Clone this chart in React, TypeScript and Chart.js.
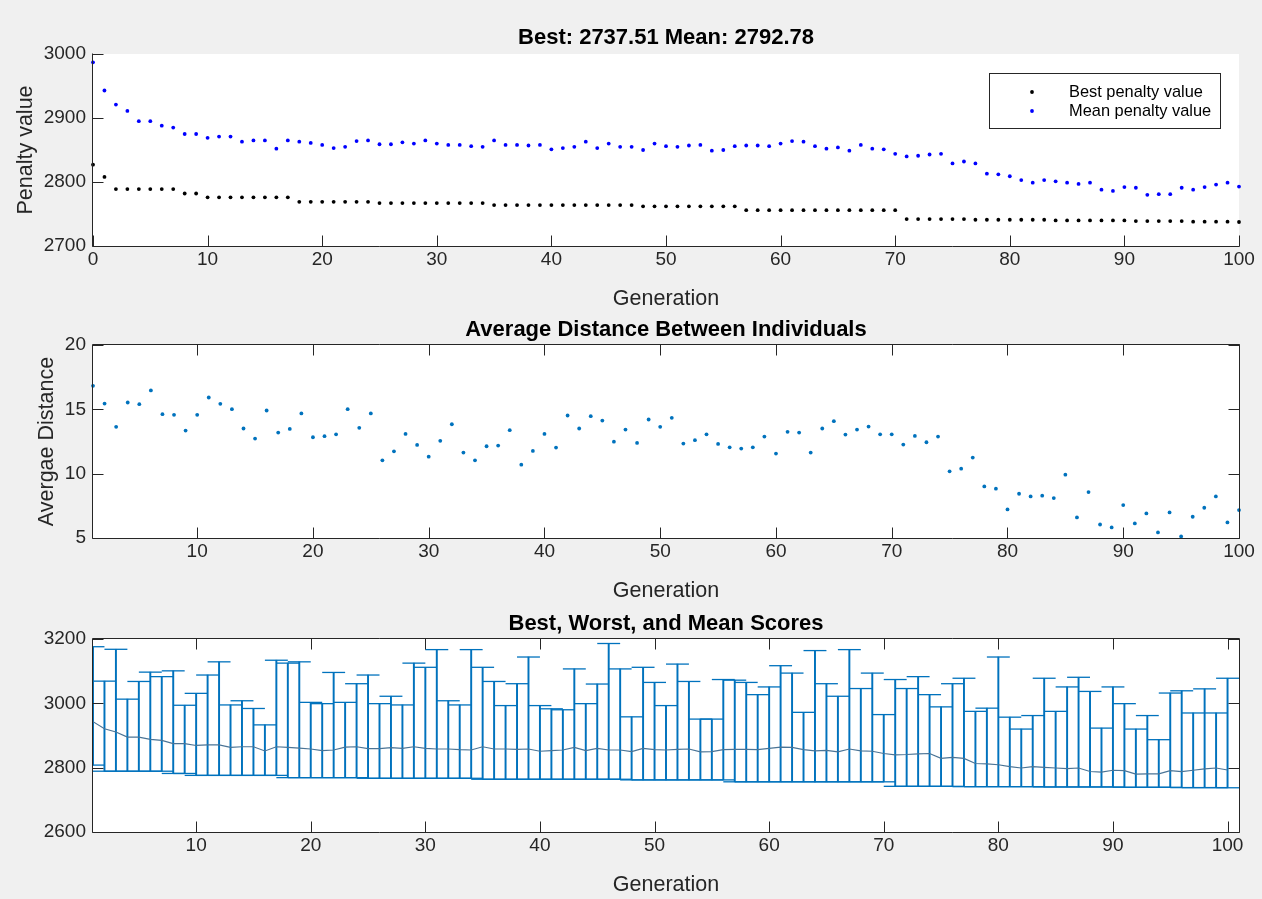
import React, { useEffect, useRef } from "react";
import { Chart, registerables } from "chart.js";

Chart.register(...registerables);

// ---------------------------------------------------------------------------
// Data
// ---------------------------------------------------------------------------

// Generation index 0..100 (x categories of the penalty plot)
const GENERATIONS: number[] = Array.from({ length: 101 }, (_, i) => i);

// Best penalty value per generation (0..100)
const BEST_PENALTY: number[] = [
  2827, 2808, 2789, 2789, 2789, 2789, 2789, 2789, 2782, 2782,
  2776, 2776, 2776, 2776, 2776, 2776, 2776, 2776, 2769, 2769,
  2769, 2769, 2769, 2769, 2769, 2767, 2767, 2767, 2767, 2767,
  2767, 2767, 2767, 2767, 2767, 2764, 2764, 2764, 2764, 2764,
  2764, 2764, 2764, 2764, 2764, 2764, 2764, 2764, 2762, 2762,
  2762, 2762, 2762, 2762, 2762, 2762, 2762, 2756, 2756, 2756,
  2756, 2756, 2756, 2756, 2756, 2756, 2756, 2756, 2756, 2756,
  2756, 2742, 2742, 2742, 2742, 2742, 2742, 2741, 2741, 2741,
  2741, 2741, 2741, 2741, 2740, 2740, 2740, 2740, 2740, 2740,
  2740, 2739, 2739, 2739, 2739, 2739, 2738, 2738, 2738, 2738,
  2737.51,
];

// Mean penalty value per generation (0..100)
const MEAN_PENALTY: number[] = [
  2987, 2943, 2921, 2911, 2895, 2895, 2888, 2885, 2875, 2875,
  2869, 2871, 2871, 2863, 2865, 2865, 2852, 2865, 2863, 2861,
  2858, 2853, 2855, 2864, 2865, 2859, 2859, 2862, 2860, 2865,
  2860, 2858, 2858, 2856, 2855, 2865, 2858, 2858, 2857, 2858,
  2851, 2853, 2855, 2863, 2853, 2860, 2855, 2855, 2850, 2860,
  2856, 2855, 2857, 2858, 2849, 2850, 2856, 2857, 2857, 2856,
  2860, 2864, 2863, 2856, 2852, 2854, 2849, 2858, 2852, 2851,
  2844, 2840, 2841, 2843, 2844, 2829, 2832, 2829, 2813, 2812,
  2809, 2803, 2799, 2803, 2801, 2799, 2797, 2799, 2788, 2786,
  2792, 2791, 2780, 2781, 2781, 2791, 2788, 2792, 2796, 2799,
  2792.78,
];

// Average distance between individuals, generations 1..100
const AVG_DISTANCE: number[] = [
  16.83, 15.45, 13.64, 15.53, 15.4, 16.47, 14.62, 14.57, 13.35, 14.57,
  15.92, 15.43, 15.01, 13.51, 12.73, 14.91, 13.19, 13.48, 14.68, 12.83,
  12.91, 13.06, 15.01, 13.56, 14.68, 11.04, 11.74, 13.09, 12.23, 11.32,
  12.55, 13.84, 11.64, 11.04, 12.13, 12.18, 13.38, 10.7, 11.77, 13.09,
  12.03, 14.52, 13.51, 14.47, 14.13, 12.49, 13.43, 12.39, 14.21, 13.64,
  14.34, 12.34, 12.6, 13.06, 12.31, 12.05, 11.95, 12.05, 12.88, 11.56,
  13.25, 13.19, 11.64, 13.51, 14.08, 13.04, 13.43, 13.66, 13.06, 13.06,
  12.26, 12.93, 12.44, 12.88, 10.18, 10.39, 11.25, 9.01, 8.83, 7.22,
  8.44, 8.23, 8.29, 8.1, 9.92, 6.6, 8.57, 6.05, 5.82, 7.56,
  6.13, 6.91, 5.43, 6.99, 5.12, 6.65, 7.35, 8.23, 6.21, 7.17,
];

// Worst score per generation, generations 1..100
const WORST_SCORE: number[] = [
  3176, 3069, 3168, 3013, 3068, 3097, 3083, 3101, 2994, 3031,
  3088, 3129, 2995, 3008, 2984, 2933, 3134, 3125, 3129, 3003,
  2999, 3096, 3003, 3061, 3088, 2999, 3022, 2995, 3125, 3112,
  3167, 3008, 2995, 3167, 3112, 3068, 2993, 3061, 3144, 2993,
  2983, 2980, 3107, 2999, 3060, 3186, 3107, 2958, 3112, 3065,
  2993, 3122, 3068, 2951, 2951, 3074, 3072, 3065, 3027, 3051,
  3117, 3094, 2972, 3164, 3061, 3022, 3167, 3046, 3094, 2965,
  3074, 3046, 3083, 3027, 2989, 3061, 3078, 2975, 2985, 3144,
  2957, 2920, 2962, 3078, 2975, 3051, 3081, 3037, 2923, 3051,
  2999, 2920, 2962, 2887, 3032, 3039, 2970, 3045, 2970, 3078,
];

// Tick values
const GEN_TICKS_FROM_ZERO = [0, 10, 20, 30, 40, 50, 60, 70, 80, 90, 100];
const GEN_TICKS = [10, 20, 30, 40, 50, 60, 70, 80, 90, 100];
const PENALTY_TICKS = [2700, 2800, 2900, 3000];
const DISTANCE_TICKS = [5, 10, 15, 20];
const SCORE_TICKS = [2600, 2800, 3000, 3200];

// ---------------------------------------------------------------------------
// Styling
// ---------------------------------------------------------------------------

const FIG_W = 1262;
const FIG_H = 899;
const FONT = "'Liberation Sans', Arial, Helvetica, sans-serif";
const AXIS_COLOR = "#262626";
const MATLAB_BLUE = "#0072bd";
const TICK_LEN = 11;

// Axes frame, inward tick marks, titles, axis labels and legend
const matlabAxes = {
  id: "matlabAxes",
  beforeDraw(chart: any) {
    const { ctx, chartArea: a } = chart;
    ctx.save();
    ctx.fillStyle = "#ffffff";
    ctx.fillRect(a.left, a.top, a.right - a.left, a.bottom - a.top);
    ctx.restore();
  },
  afterDraw(chart: any, _args: any, o: any) {
    const { ctx, chartArea: a } = chart;
    const xs = chart.scales.x;
    const ys = chart.scales.y;
    const L = Math.round(a.left) - 0.5;
    const R = Math.round(a.right) + 0.5;
    const T = Math.round(a.top) - 0.5;
    const B = Math.round(a.bottom) + 0.5;

    ctx.save();
    ctx.strokeStyle = AXIS_COLOR;
    ctx.lineWidth = 1;
    ctx.beginPath();
    if (o.box) {
      ctx.rect(L, T, R - L, B - T);
    } else {
      ctx.moveTo(L, T);
      ctx.lineTo(L, B);
      ctx.lineTo(R, B);
    }
    for (const t of xs.ticks) {
      const px = Math.round(xs.getPixelForValue(t.value)) + 0.5;
      ctx.moveTo(px, B);
      ctx.lineTo(px, B - TICK_LEN);
      if (o.box) {
        ctx.moveTo(px, T);
        ctx.lineTo(px, T + TICK_LEN);
      }
    }
    for (const t of ys.ticks) {
      const py = Math.round(ys.getPixelForValue(t.value)) + 0.5;
      ctx.moveTo(L, py);
      ctx.lineTo(L + TICK_LEN, py);
      if (o.box) {
        ctx.moveTo(R, py);
        ctx.lineTo(R - TICK_LEN, py);
      }
    }
    ctx.stroke();

    const cx = (a.left + a.right) / 2;
    ctx.textAlign = "center";
    ctx.textBaseline = "alphabetic";
    ctx.fillStyle = "#000000";
    ctx.font = `bold 22px ${FONT}`;
    ctx.fillText(o.title, cx, o.titleY);

    ctx.fillStyle = AXIS_COLOR;
    ctx.font = `21.5px ${FONT}`;
    ctx.fillText(o.xlabel, cx, o.xlabelY);

    if (o.ylabel) {
      ctx.save();
      ctx.translate(o.ylabelX, (a.top + a.bottom) / 2);
      ctx.rotate(-Math.PI / 2);
      ctx.fillText(o.ylabel, 0, 0);
      ctx.restore();
    }

    if (o.legend) {
      const lg = o.legend;
      ctx.fillStyle = "#ffffff";
      ctx.fillRect(lg.left, lg.top, lg.right - lg.left, lg.bottom - lg.top);
      ctx.strokeStyle = AXIS_COLOR;
      ctx.strokeRect(lg.left + 0.5, lg.top + 0.5, lg.right - lg.left, lg.bottom - lg.top);
      chart.data.datasets.forEach((ds: any, i: number) => {
        ctx.beginPath();
        ctx.fillStyle = ds.backgroundColor;
        ctx.arc(lg.markerX, lg.markerY[i], 1.9, 0, Math.PI * 2);
        ctx.fill();
        ctx.fillStyle = "#000000";
        ctx.font = `16.4px ${FONT}`;
        ctx.textAlign = "left";
        ctx.textBaseline = "alphabetic";
        ctx.fillText(ds.label, lg.textX, lg.textY[i]);
      });
    }
    ctx.restore();
  },
};

const tickFont = { family: FONT, size: 19 };

function xAxis(min: number, max: number, ticks: number[], boxHeight: number) {
  return {
    type: "linear",
    min,
    max,
    offset: false,
    grid: { display: false, drawTicks: false },
    border: { display: false },
    ticks: {
      color: AXIS_COLOR,
      font: tickFont,
      padding: 2,
      maxRotation: 0,
      autoSkip: false,
      callback: (v: any) => String(v),
    },
    afterBuildTicks: (s: any) => {
      s.ticks = ticks.map((v) => ({ value: v }));
    },
    afterFit: (s: any) => {
      s.height = boxHeight;
    },
  };
}

function yAxis(min: number, max: number, ticks: number[]) {
  return {
    type: "linear",
    min,
    max,
    grid: { display: false, drawTicks: false },
    border: { display: false },
    ticks: {
      color: AXIS_COLOR,
      font: tickFont,
      padding: 7,
      autoSkip: false,
      callback: (v: any) => String(v),
    },
    afterBuildTicks: (s: any) => {
      s.ticks = ticks.map((v) => ({ value: v }));
    },
    afterFit: (s: any) => {
      s.width = 93;
    },
  };
}

const basePlugins = {
  legend: { display: false },
  tooltip: { enabled: false },
  title: { display: false },
};

// ---------------------------------------------------------------------------
// Chart configurations
// ---------------------------------------------------------------------------

function penaltyConfig(): any {
  return {
    type: "scatter",
    data: {
      datasets: [
        {
          label: "Best penalty value",
          data: GENERATIONS.map((g, i) => ({ x: g, y: BEST_PENALTY[i] })),
          backgroundColor: "#000000",
          pointRadius: 1.9,
          pointBorderWidth: 0,
          clip: false,
        },
        {
          label: "Mean penalty value",
          data: GENERATIONS.map((g, i) => ({ x: g, y: MEAN_PENALTY[i] })),
          backgroundColor: "#0000ff",
          pointRadius: 1.9,
          pointBorderWidth: 0,
          clip: false,
        },
      ],
    },
    options: {
      animation: false,
      responsive: false,
      events: [],
      layout: { padding: { top: 54, left: 0, right: FIG_W - 1239, bottom: 0 } },
      scales: {
        x: xAxis(0, 100, GEN_TICKS_FROM_ZERO, 310 - 246),
        y: yAxis(2700, 3000, PENALTY_TICKS),
      },
      plugins: {
        ...basePlugins,
        matlabAxes: {
          box: false,
          title: "Best: 2737.51 Mean: 2792.78",
          titleY: 44,
          xlabel: "Generation",
          xlabelY: 305,
          ylabel: "Penalty value",
          ylabelX: 32,
          legend: {
            left: 989,
            top: 73,
            right: 1220,
            bottom: 128,
            markerX: 1032,
            markerY: [92, 111],
            textX: 1069,
            textY: [96.5, 116],
          },
        },
      },
    },
    plugins: [matlabAxes],
  };
}

function distanceConfig(): any {
  return {
    type: "scatter",
    data: {
      datasets: [
        {
          label: "Average distance",
          data: AVG_DISTANCE.map((d, i) => ({ x: GENERATIONS[i + 1], y: d })),
          backgroundColor: MATLAB_BLUE,
          pointRadius: 1.9,
          pointBorderWidth: 0,
          clip: false,
        },
      ],
    },
    options: {
      animation: false,
      responsive: false,
      events: [],
      layout: { padding: { top: 35, left: 0, right: FIG_W - 1239, bottom: 0 } },
      scales: {
        x: xAxis(1, 100, GEN_TICKS, 296 - 228),
        y: yAxis(5, 20, DISTANCE_TICKS),
      },
      plugins: {
        ...basePlugins,
        matlabAxes: {
          box: true,
          title: "Average Distance Between Individuals",
          titleY: 26,
          xlabel: "Generation",
          xlabelY: 287,
          ylabel: "Avergae Distance",
          ylabelX: 53,
        },
      },
    },
    plugins: [matlabAxes],
  };
}

function scoresConfig(): any {
  const gens = GENERATIONS.slice(1);
  const best = BEST_PENALTY.slice(1);
  const mean = MEAN_PENALTY.slice(1);
  // cap half-width of one generation, measured on the x scale
  const capRadius = (c: any) => {
    const s = c.chart.scales.x;
    return Math.abs(s.getPixelForValue(2) - s.getPixelForValue(1));
  };
  const capSet = (label: string, values: number[]) => ({
    type: "line",
    label,
    data: gens.map((g, i) => ({ x: g, y: values[i] })),
    showLine: false,
    pointStyle: "line",
    pointRadius: capRadius,
    pointBorderColor: MATLAB_BLUE,
    pointBackgroundColor: MATLAB_BLUE,
    pointBorderWidth: 1.3,
    clip: 0,
    order: 1,
  });
  return {
    type: "bar",
    data: {
      datasets: [
        {
          type: "line",
          label: "Mean",
          data: gens.map((g, i) => ({ x: g, y: mean[i] })),
          borderColor: "#4a7496",
          borderWidth: 1.2,
          pointRadius: 0,
          clip: 0,
          order: 0,
        },
        {
          type: "bar",
          label: "Range",
          data: gens.map((g, i) => ({ x: g, y: [best[i], WORST_SCORE[i]] })),
          backgroundColor: MATLAB_BLUE,
          borderWidth: 0,
          barThickness: 1.3,
          grouped: false,
          clip: 0,
          order: 2,
        },
        capSet("Worst", WORST_SCORE),
        capSet("Best", best),
      ],
    },
    options: {
      animation: false,
      responsive: false,
      events: [],
      layout: { padding: { top: 33, left: 0, right: FIG_W - 1239, bottom: 0 } },
      scales: {
        x: xAxis(1, 101, GEN_TICKS, 293 - 226),
        y: yAxis(2600, 3200, SCORE_TICKS),
      },
      plugins: {
        ...basePlugins,
        matlabAxes: {
          box: true,
          title: "Best, Worst, and Mean Scores",
          titleY: 24,
          xlabel: "Generation",
          xlabelY: 285,
        },
      },
    },
    plugins: [matlabAxes],
  };
}

// ---------------------------------------------------------------------------
// Components
// ---------------------------------------------------------------------------

function Panel({ top, height, build }: { top: number; height: number; build: () => any }) {
  const ref = useRef<HTMLCanvasElement>(null);
  useEffect(() => {
    if (!ref.current) return;
    const chart = new Chart(ref.current, build());
    return () => chart.destroy();
  }, [build]);
  return (
    <canvas
      ref={ref}
      width={FIG_W}
      height={height}
      style={{ position: "absolute", left: 0, top, width: FIG_W, height, display: "block" }}
    />
  );
}

export default function App() {
  return (
    <div
      style={{
        position: "absolute",
        left: 0,
        top: 0,
        width: FIG_W,
        height: FIG_H,
        background: "#f0f0f0",
        overflow: "hidden",
      }}
    >
      <Panel top={0} height={310} build={penaltyConfig} />
      <Panel top={310} height={296} build={distanceConfig} />
      <Panel top={606} height={293} build={scoresConfig} />
    </div>
  );
}
